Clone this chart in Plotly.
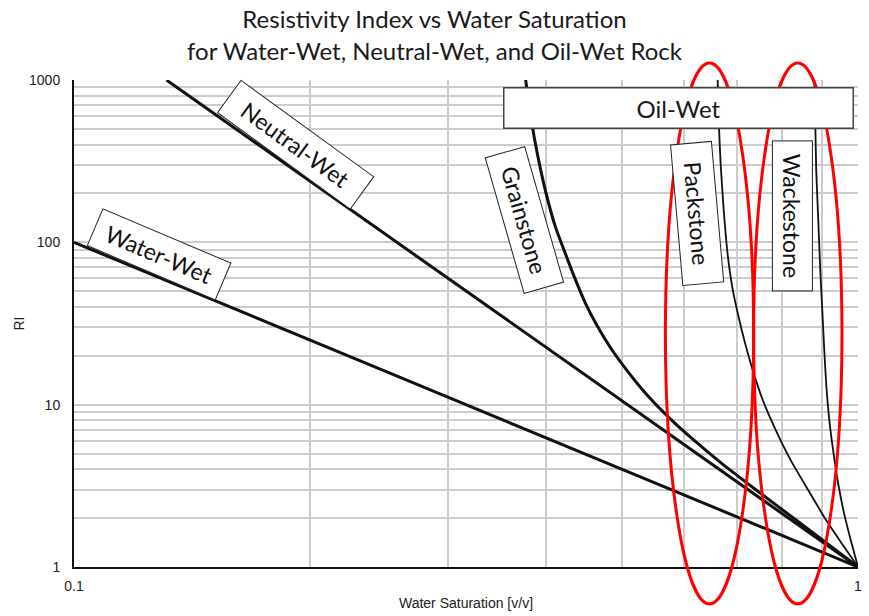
import math
import plotly.graph_objects as go

# Water saturation (v/v) and resistivity index for each wettability case
water_wet_sw = [0.1, 1.0]
water_wet_ri = [100, 1]

neutral_wet_sw = [0.1312, 1.0]
neutral_wet_ri = [1000, 1]

grainstone_sw = [0.3768, 0.3813, 0.3869, 0.3937, 0.4019, 0.4114, 0.4223, 0.4348, 0.4490,
                 0.4650, 0.4844, 0.5076, 0.5350, 0.5705, 0.6139, 0.6700, 0.7423, 0.8344, 1.0]
grainstone_ri = [1000, 654.6, 428.5, 280.5, 183.6, 123.6, 88.1, 61.0, 42.2,
                 30.5, 22.1, 16.2, 11.85, 8.56, 6.19, 4.35, 2.97, 1.94, 1]

packstone_sw = [0.6622, 0.6642, 0.6681, 0.6740, 0.6819, 0.6920, 0.7042, 0.7188,
                0.7358, 0.7576, 0.7870, 0.8223, 0.8641, 0.9108, 0.9571, 1.0]
packstone_ri = [1000, 568.4, 301.0, 159.4, 84.4, 51.5, 34.7, 23.3,
                15.7, 10.4, 6.83, 4.47, 2.97, 1.94, 1.36, 1]

wackestone_sw = [0.8796, 0.8820, 0.8845, 0.8898, 0.8950, 0.9003, 0.9055,
                 0.9108, 0.9188, 0.9296, 0.9433, 0.9599, 0.9798, 1.0]
wackestone_ri = [1000, 568.4, 280.5, 138.4, 68.3, 38.8, 22.1,
                 13.45, 8.21, 5.22, 3.28, 2.14, 1.44, 1]

# Axis ticks: labels only at the ends of each decade
x_tickvals = [0.1, 0.2, 0.3, 0.4, 0.5, 0.6, 0.7, 0.8, 0.9, 1.0]
x_ticktext = ["0.1", "", "", "", "", "", "", "", "", "1"]
y_tickvals = [m * 10 ** d for d in range(3) for m in range(1, 10)] + [1000]
y_ticktext = [str(v) if v in (1, 10, 100, 1000) else "" for v in y_tickvals]

# Saturation bands highlighted with red ellipses
highlight_bands = [(0.568, 0.736), (0.736, 0.954)]

LABEL_FONT = "Lato"
AXIS_FONT = "Liberation Sans"

fig = go.Figure()

curves = [
    (water_wet_sw, water_wet_ri, 3.0, "Water-Wet"),
    (neutral_wet_sw, neutral_wet_ri, 3.0, "Neutral-Wet"),
    (grainstone_sw, grainstone_ri, 3.0, "Grainstone"),
    (packstone_sw, packstone_ri, 1.8, "Packstone"),
    (wackestone_sw, wackestone_ri, 1.8, "Wackestone"),
]
for sw, ri, width, name in curves:
    fig.add_trace(go.Scatter(
        x=sw, y=ri, mode="lines", name=name,
        line=dict(color="#111111", width=width, shape="spline", smoothing=0.6),
        showlegend=False, hoverinfo="x+y+name",
    ))

# Rotated, boxed curve labels: (text, Sw, RI, angle, box width, box height)
labels = [
    ("Neutral-Wet", 0.1915, 399, 36, 165, 41),
    ("Water-Wet", 0.1285, 84, 23, 140, 41),
    ("Grainstone", 0.3757, 138, 74, 142, 42),
    ("Packstone", 0.6229, 151, 85, 142, 42),
    ("Wackestone", 0.8244, 146, 90, 151, 41),
]
for text, sw, ri, angle, w, h in labels:
    fig.add_annotation(
        x=math.log10(sw), y=math.log10(ri), xref="x", yref="y",
        text=text, showarrow=False, textangle=angle,
        width=w - 4, height=h - 4, borderpad=1,
        bgcolor="white", bordercolor="#222222", borderwidth=1,
        font=dict(family=LABEL_FONT, size=23, color="#111111"),
    )

fig.add_annotation(
    x=math.log10(0.591), y=math.log10(668), xref="x", yref="y",
    text="Oil-Wet", showarrow=False,
    width=346, height=37, borderpad=1,
    bgcolor="white", bordercolor="#444444", borderwidth=1.5,
    font=dict(family=LABEL_FONT, size=24, color="#1a1a1a"),
)

for lo, hi in highlight_bands:
    fig.add_shape(
        type="circle", xref="x", yref="paper",
        x0=lo, x1=hi, y0=-0.0757, y1=1.0348,
        line=dict(color="#ff0000", width=3), layer="above",
    )

fig.update_layout(
    width=869, height=616,
    margin=dict(l=74, r=7, t=80, b=47),
    paper_bgcolor="white", plot_bgcolor="white",
    title=dict(
        text="Resistivity Index vs Water Saturation<br>for Water-Wet, Neutral-Wet, and Oil-Wet Rock",
        x=0.5, xref="container", xanchor="center",
        y=0.954, yref="container", yanchor="middle",
        font=dict(family=LABEL_FONT, size=24, color="#1a1a1a"),
    ),
)

fig.update_xaxes(
    type="log", range=[-1, 0],
    tickvals=x_tickvals, ticktext=x_ticktext,
    showgrid=True, gridcolor="#cccccc", gridwidth=1.5,
    showline=True, linecolor="#111111", linewidth=2,
    ticks="outside", ticklen=5, tickcolor="rgba(0,0,0,0)",
    tickfont=dict(family=AXIS_FONT, size=14, color="#222222"),
    title=dict(text="Water Saturation [v/v]", standoff=5,
               font=dict(family=AXIS_FONT, size=14, color="#222222")),
    zeroline=False,
)
fig.update_yaxes(
    type="log", range=[0, 3],
    tickvals=y_tickvals, ticktext=y_ticktext,
    showgrid=True, gridcolor="#cccccc", gridwidth=1.5,
    showline=True, linecolor="#111111", linewidth=2,
    ticks="outside", ticklen=9, tickcolor="rgba(0,0,0,0)",
    tickfont=dict(family=AXIS_FONT, size=14, color="#222222"),
    title=dict(text="RI", standoff=1,
               font=dict(family=AXIS_FONT, size=14, color="#222222")),
    zeroline=False,
)

fig.write_html("out.html")
